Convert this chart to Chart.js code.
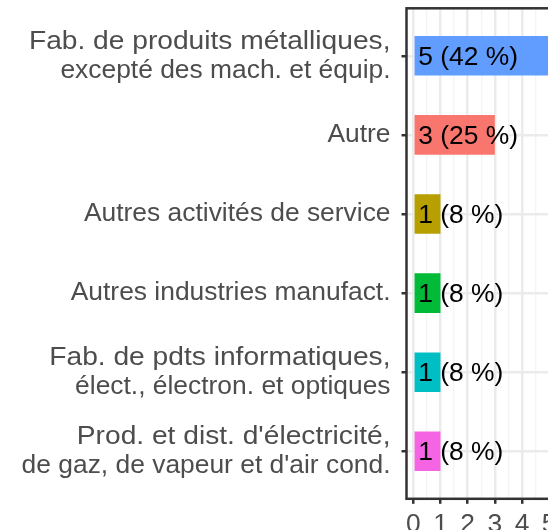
<!DOCTYPE html>
<html lang="fr">
<head>
  <meta charset="UTF-8">
  <title>Répartition par secteur d'activité</title>
  <script src="https://cdn.jsdelivr.net/npm/chart.js"></script>
  <style>
    html, body { margin: 0; padding: 0; background: #fff; }
    .cadre { width: 548px; height: 530px; overflow: hidden; }
    canvas { display: block; }
  </style>
</head>
<body>
  <div class="cadre"><canvas id="graphique" width="556" height="530"></canvas></div>

<script>
const secteurs = [
  ['Fab. de produits métalliques,', 'excepté des mach. et équip.'],
  'Autre',
  'Autres activités de service',
  'Autres industries manufact.',
  ['Fab. de pdts informatiques,', 'élect., électron. et optiques'],
  ["Prod. et dist. d'électricité,", "de gaz, de vapeur et d'air cond."]
];
const effectifs = [5, 3, 1, 1, 1, 1];
const pourcentages = [42, 25, 8, 8, 8, 8];
const couleurs = ['#619CFF', '#F8766D', '#B79F00', '#00BA38', '#00BFC4', '#F564E3'];
const graduations = [0, 1, 2, 3, 4, 5];

const police = '"Liberation Sans", Arial, sans-serif';
const taille = 26.4;
const estEntier = v => Number.isInteger(v);

// étiquettes "n (x %)" posées au pied des barres
const etiquettes = {
  id: 'etiquettes',
  afterDatasetsDraw(chart) {
    const { ctx, scales: { x } } = chart;
    const meta = chart.getDatasetMeta(0);
    ctx.save();
    ctx.font = taille + 'px ' + police;
    ctx.fillStyle = '#000';
    ctx.textAlign = 'left';
    ctx.textBaseline = 'middle';
    meta.data.forEach((barre, i) => {
      ctx.fillText(`${effectifs[i]} (${pourcentages[i]} %)`, x.getPixelForValue(0) + 5, barre.y + 1.5);
    });
    ctx.restore();
  }
};

// libellés de l'axe Y (la 1re ligne des libellés sur deux lignes est un peu étirée, comme dans l'original)
const libellesY = {
  id: 'libellesY',
  afterDraw(chart) {
    const { ctx, scales: { y }, chartArea } = chart;
    const x0 = chartArea.left - 16;
    const interligne = taille * 1.1;
    ctx.save();
    ctx.font = taille + 'px ' + police;
    ctx.fillStyle = '#4d4d4d';
    ctx.textAlign = 'right';
    ctx.textBaseline = 'middle';
    secteurs.forEach((lib, i) => {
      const lignes = [].concat(lib);
      const yc = y.getPixelForValue(i);
      lignes.forEach((ligne, k) => {
        const yl = yc + (k - (lignes.length - 1) / 2) * interligne;
        const etirement = lignes.length > 1 && k === 0 ? 1.067 : 1;
        ctx.save();
        ctx.translate(x0, yl);
        ctx.scale(etirement, 1);
        ctx.fillText(ligne, 0, 0);
        ctx.restore();
      });
    });
    ctx.restore();
  }
};

// cadre du panneau
const cadre = {
  id: 'cadre',
  afterDraw(chart) {
    const { ctx, chartArea: a } = chart;
    ctx.save();
    ctx.strokeStyle = '#333';
    ctx.lineWidth = 2.5;
    ctx.strokeRect(a.left, a.top, a.right - a.left, a.bottom - a.top);
    ctx.restore();
  }
};

new Chart(document.getElementById('graphique'), {
  type: 'bar',
  data: {
    datasets: [{
      data: effectifs.map((v, i) => ({ x: v, y: i })),
      backgroundColor: couleurs,
      borderWidth: 0,
      barPercentage: 0.5,
      categoryPercentage: 1
    }]
  },
  options: {
    indexAxis: 'y',
    responsive: false,
    animation: false,
    layout: { padding: { top: 8.3, left: 0, right: 0, bottom: 0 } },
    plugins: { legend: { display: false }, tooltip: { enabled: false } },
    scales: {
      x: {
        type: 'linear',
        offset: false,
        min: -0.25,
        max: 5.25,
        afterBuildTicks: s => {
          const t = [];
          graduations.forEach(g => { t.push({ value: g }); if (g < 5) t.push({ value: g + 0.5 }); });
          s.ticks = t;
        },
        afterFit: s => { s.height = 31.2; s.paddingLeft = 0; s.paddingRight = 0; },
        border: { display: false },
        grid: {
          offset: false,
          color: c => estEntier(c.tick.value) ? '#ebebeb' : '#f4f4f4',
          lineWidth: c => estEntier(c.tick.value) ? 2.5 : 1.4,
          tickColor: c => estEntier(c.tick.value) ? '#333' : 'rgba(0,0,0,0)',
          tickLength: 5,
          tickWidth: 2.5
        },
        ticks: {
          autoSkip: false,
          maxRotation: 0,
          padding: 5,
          color: '#4d4d4d',
          font: { family: police, size: taille },
          callback: v => estEntier(v) ? String(v) : ''
        }
      },
      y: {
        type: 'linear',
        offset: false,
        reverse: true,
        min: -0.6,
        max: 5.6,
        afterBuildTicks: s => { s.ticks = secteurs.map((_, i) => ({ value: i })); },
        afterFit: s => { s.width = 406.5; s.paddingTop = 0; s.paddingBottom = 0; },
        border: { display: false },
        grid: {
          offset: false,
          color: '#ebebeb',
          lineWidth: 2.5,
          tickColor: '#333',
          tickLength: 5,
          tickWidth: 2.5
        },
        ticks: { display: false }
      }
    }
  },
  plugins: [etiquettes, libellesY, cadre]
});
</script>
</body>
</html>
